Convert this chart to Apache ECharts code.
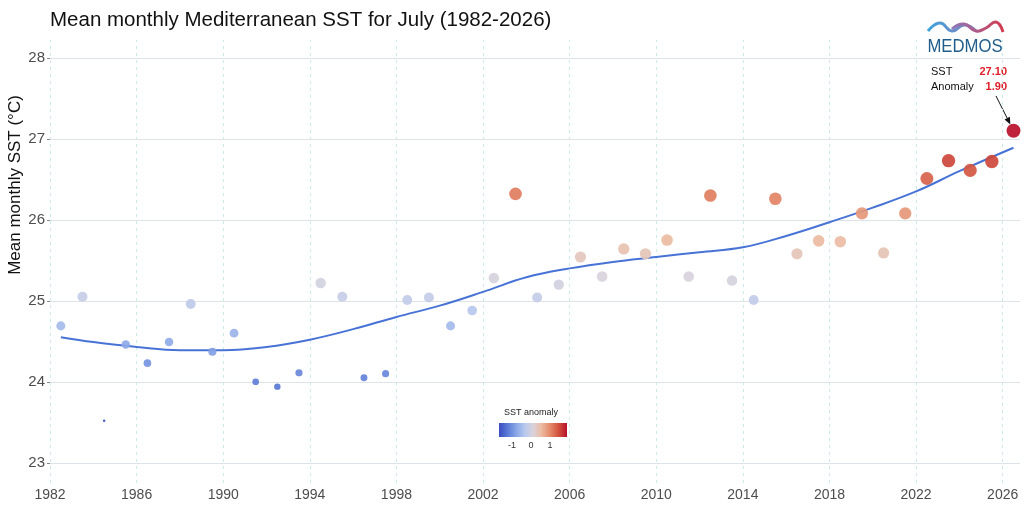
<!DOCTYPE html>
<html><head><meta charset="utf-8">
<script src="https://cdn.jsdelivr.net/npm/echarts@6/dist/echarts.min.js"></script>
<style>html,body{margin:0;padding:0;background:#fff}#c{width:1024px;height:516px}</style>
</head><body><div id="c"></div>
<script>
// ---- data ----
const years = [1982,1983,1984,1985,1986,1987,1988,1989,1990,1991,1992,1993,1994,1995,1996,1997,1998,1999,2000,2001,2002,2003,2004,2005,2006,2007,2008,2009,2010,2011,2012,2013,2014,2015,2016,2017,2018,2019,2020,2021,2022,2023,2024,2025,2026];
const sst = [24.69,25.05,23.52,24.46,24.23,24.49,24.96,24.37,24.60,24.00,23.94,24.11,25.22,25.05,24.05,24.10,25.01,25.04,24.69,24.88,25.28,26.32,25.04,25.20,25.54,25.30,25.64,25.58,25.75,25.30,26.30,25.25,25.01,26.26,25.58,25.74,25.73,26.08,25.59,26.08,26.51,26.73,26.61,26.72,27.10];
const trendYears = [1982.5,1984,1986,1988,1990,1992,1994,1996,1998,2000,2002,2004,2006,2008,2010,2012,2014,2016,2018,2020,2022,2024,2026.5];
const trendValues = [24.55,24.49,24.43,24.39,24.39,24.43,24.52,24.65,24.80,24.94,25.11,25.29,25.40,25.48,25.54,25.60,25.66,25.80,25.97,26.15,26.35,26.60,26.89];
const xTicks = [1982,1986,1990,1994,1998,2002,2006,2010,2014,2018,2022,2026];
const yTicks = [23,24,25,26,27,28];
const legendTicks = [-1,0,1];
const BASELINE = 25.2;
const titleText = 'Mean monthly Mediterranean SST for July (1982-2026)';
const yName = 'Mean monthly SST (°C)';

// ---- build ----
const FONT = '"Liberation Sans", Arial, Helvetica, sans-serif';
const anomalies = sst.map(v => +(v - BASELINE).toFixed(2));
const points = years.map((y, i) => [y + 0.5, sst[i], anomalies[i]]);
const trend = trendYears.map((y, i) => [y, trendValues[i]]);
const sMin = Math.min(...sst), sMax = Math.max(...sst);
const aMin = Math.min(...anomalies), aMax = Math.max(...anomalies);
const colors = ['#3b4cc0','#5b7bd6','#88a5e6','#b6c8ee','#d9d3dc','#ecbba0','#e48a6a','#d2523e','#b8102a'];
const n = years.length;

const chart = echarts.init(document.getElementById('c'));

function buildGraphics(tip) {
  const g = [
    {type:'text', left:50, top:10, style:{text:titleText, font:'20.5px ' + FONT, fill:'#111'}},
    {type:'text', x:15, y:185, rotation:Math.PI/2, style:{text:yName, font:'17px ' + FONT, fill:'#111', align:'center', verticalAlign:'middle'}},
    // logo
    {type:'polyline', shape:{points:[[928,31],[940,23],[952,31],[964,25],[976,31]], smooth:0.5},
      style:{fill:null, lineWidth:3, stroke:{type:'linear', x:0, y:0, x2:1, y2:0, colorStops:[{offset:0,color:'#3aa6de'},{offset:1,color:'#8c7ab8'}]}}},
    {type:'polyline', shape:{points:[[952,29],[964,24],[976,31],[986,28],[996,22],[1003,32]], smooth:0.5},
      style:{fill:null, lineWidth:3, stroke:{type:'linear', x:0, y:0, x2:1, y2:0, colorStops:[{offset:0,color:'#8a7cc0'},{offset:1,color:'#d5384a'}]}}},
    {type:'text', x:965, y:47, scaleX:0.88, style:{text:'MEDMOS', font:'19px ' + FONT, fill:'#1f5d8c', align:'center', verticalAlign:'middle'}},
    // annotation
    {type:'text', x:931, y:72, style:{text:'SST', font:'11px ' + FONT, fill:'#111', verticalAlign:'middle'}},
    {type:'text', x:1007, y:72, style:{text:sst[n-1].toFixed(2), font:'bold 11px ' + FONT, fill:'#e0202a', align:'right', verticalAlign:'middle'}},
    {type:'text', x:931, y:87, style:{text:'Anomaly', font:'11px ' + FONT, fill:'#111', verticalAlign:'middle'}},
    {type:'text', x:1007, y:87, style:{text:anomalies[n-1].toFixed(2), font:'bold 11px ' + FONT, fill:'#e0202a', align:'right', verticalAlign:'middle'}},
    // legend
    {type:'text', x:531, y:413, style:{text:'SST anomaly', font:'9px ' + FONT, fill:'#222', align:'center', verticalAlign:'middle'}},
    {type:'rect', shape:{x:499, y:423, width:68, height:14},
      style:{fill:{type:'linear', x:0, y:0, x2:1, y2:0, colorStops:colors.map((c,i)=>({offset:i/(colors.length-1), color:c}))}}}
  ];
  legendTicks.forEach(v => {
    g.push({type:'text', x:499 + 68*(v - aMin)/(aMax - aMin), y:446,
      style:{text:String(v), font:'9px ' + FONT, fill:'#333', align:'center', verticalAlign:'middle'}});
  });
  if (tip) {
    const sx = 996, sy = 96;
    const dx = tip[0] - sx, dy = tip[1] - sy, L = Math.hypot(dx, dy);
    const ux = dx / L, uy = dy / L;
    const ex = tip[0] - ux * 7, ey = tip[1] - uy * 7;
    const hx = ex - ux * 7, hy = ey - uy * 7;
    g.push({type:'line', shape:{x1:sx, y1:sy, x2:hx, y2:hy}, style:{stroke:'#111', lineWidth:1}});
    g.push({type:'polygon', shape:{points:[[ex,ey],[hx - uy*3, hy + ux*3],[hx + uy*3, hy - ux*3]]}, style:{fill:'#111'}});
  }
  return g;
}

const option = {
  animation: false,
  backgroundColor: '#fff',
  grid: {left:50, right:4, top:40, bottom:33},
  xAxis: {type:'value', min:1982, max:2026.8,
    axisLine:{show:false}, axisTick:{show:false}, splitLine:{show:false},
    axisLabel:{customValues:xTicks, fontSize:14, color:'#4d4d4d', fontFamily:FONT, margin:5, formatter:v => String(v)}},
  yAxis: {type:'value', min:22.75, max:28.22,
    axisLine:{show:false}, splitLine:{show:false},
    axisTick:{show:true, customValues:yTicks, length:3, lineStyle:{color:'#888'}},
    axisLabel:{customValues:yTicks, fontSize:15, color:'#4d4d4d', fontFamily:FONT, margin:5}},
  visualMap: {show:false, type:'continuous', dimension:2, seriesIndex:2, min:aMin, max:aMax, inRange:{color:colors}},
  series: [
    {type:'line', data:[], z:0, zlevel:0, silent:true,
      markLine:{z:0, silent:true, symbol:'none', label:{show:false}, animation:false,
        data:[
          ...xTicks.map(x => ({xAxis:x, lineStyle:{type:[3,4], color:'#cdeaea', width:1}})),
          ...yTicks.map(y => ({yAxis:y, lineStyle:{type:'solid', color:'#dde3e6', width:1.2}}))
        ]}},
    {type:'line', data:trend, smooth:0.4, symbol:'none', z:2, silent:true,
      lineStyle:{color:'#4873d6', width:2}},
    {type:'scatter', data:points, z:3,
      symbolSize: d => 2.5 + 11.5 * Math.sqrt((d[1] - sMin) / (sMax - sMin)),
      itemStyle:{opacity:0.92}}
  ],
  graphic: buildGraphics(null)
};
chart.setOption(option);
const tip = chart.convertToPixel({seriesIndex:2}, [years[n-1] + 0.5, sst[n-1]]);
chart.setOption({graphic: buildGraphics(tip)});
</script></body></html>
